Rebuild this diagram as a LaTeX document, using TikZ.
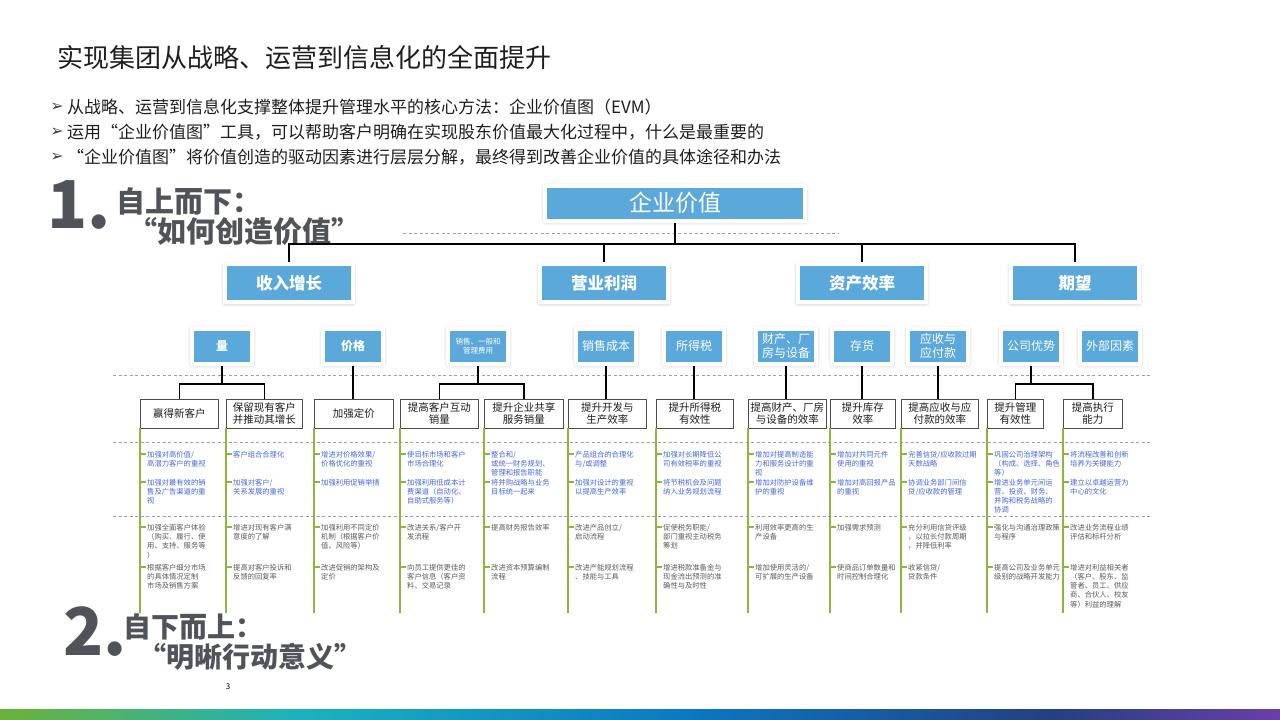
\documentclass[tikz,border=0pt]{standalone}
\usepackage{fontspec}
\setmainfont{Noto Sans CJK SC}
\newfontfamily\symfont{DejaVu Sans}
\usetikzlibrary{positioning,shadows.blur}
\definecolor{evmBlue}{HTML}{5BA8DB}
\definecolor{evmInk}{HTML}{1E1E1E}
\definecolor{evmHead}{HTML}{50545A}
\definecolor{evmGreen}{HTML}{8DB63C}
\definecolor{evmIdea}{HTML}{4466DD}
\definecolor{evmFact}{HTML}{5A5A5A}
\definecolor{evmDash}{HTML}{A0A0A0}
\definecolor{barGreen}{HTML}{6BB23A}
\definecolor{barTeal}{HTML}{1BB2BE}
\definecolor{barBlue}{HTML}{0A78C2}
\definecolor{barNavy}{HTML}{24407F}
\definecolor{barPurple}{HTML}{6A3EA8}
\tikzset{
  valuebox/.style={fill=evmBlue, draw=white, line width=4pt, text=white,
        minimum width=260pt, minimum height=35pt, inner sep=1pt, align=center,
        font=\fontsize{23}{25}\selectfont,
        blur shadow={shadow xshift=0pt, shadow yshift=-1pt,
                     shadow blur radius=4pt, shadow opacity=35}},
  driverbox/.style={valuebox, minimum width=128pt, minimum height=38pt,
        font=\fontsize{16.5}{18}\selectfont\bfseries},
  leverbox/.style={valuebox, minimum width=60pt, minimum height=35pt,
        font=\fontsize{12}{14}\selectfont},
  actbox/.style={draw=black!70, fill=white, line width=0.8pt, minimum height=29pt,
        align=center, inner sep=1pt, anchor=west, text=evmInk,
        font=\fontsize{10.5}{12.5}\selectfont},
  treeline/.style={draw=black, line width=1.2pt},
  guide/.style={draw=evmDash, line width=0.8pt, dash pattern=on 3pt off 2.5pt},
  greenstem/.style={draw=evmGreen, line width=1.1pt},
  idea/.style={anchor=north west, inner sep=0pt, align=left, text=evmIdea,
        font=\fontsize{7.3}{9.2}\selectfont},
  fact/.style={idea, text=evmFact},
  headnum/.style={anchor=base west, inner sep=0pt, text=evmHead,
        font=\fontsize{66}{66}\selectfont\bfseries},
  headtxt/.style={anchor=base west, inner sep=0pt, text=evmHead,
        font=\fontsize{29}{31}\selectfont\bfseries},
  bulletmark/.style={text=evmInk!85, inner sep=0pt, font=\symfont\fontsize{16}{16}\selectfont},
  bullettxt/.style={anchor=west, text=evmInk, inner sep=0pt,
        font=\fontsize{17}{19}\selectfont}
}

\begin{document}
\begin{tikzpicture}[x=1pt, y=-1pt]
\useasboundingbox (0,0) rectangle (1280,720);

\node[anchor=west, inner sep=0pt, text=evmInk, font=\fontsize{26}{28}\selectfont] (title) at (57,58) {实现集团从战略、运营到信息化的全面提升};

\node[bulletmark] (mark1) at (57,107) {➢};
\node[bullettxt, right=3pt of mark1] (point1) {从战略、运营到信息化支撑整体提升管理水平的核心方法：企业价值图（EVM）};
\node[bulletmark] (mark2) at (57,132) {➢};
\node[bullettxt, right=3pt of mark2] (point2) {运用“企业价值图”工具，可以帮助客户明确在实现股东价值最大化过程中，什么是最重要的};
\node[bulletmark] (mark3) at (57,157) {➢};
\node[bullettxt, right=3pt of mark3] (point3) {“企业价值图”将价值创造的驱动因素进行层层分解，最终得到改善企业价值的具体途径和办法};

\node[headnum] (numone) at (47,228) {1.};
\node[headtxt] (topdown) at (116,212) {自上而下：};
\node[headtxt] (topdownq) at (128,242) {“如何创造价值”};
\node[headnum] (numtwo) at (63,655) {2.};
\node[headtxt, font=\fontsize{28}{30}\selectfont\bfseries] (bottomup) at (123,637) {自下而上：};
\node[headtxt, font=\fontsize{28}{30}\selectfont\bfseries] (bottomupq) at (138,667) {“明晰行动意义”};
\node[inner sep=0pt, font=\fontsize{8}{8}\selectfont] (pagenum) at (228,687) {3};

\draw[guide] (403,233) -- (838,233);
\draw[guide] (113,375) -- (1150,375);
\draw[guide] (113,442) -- (1150,442);
\draw[guide] (113,516) -- (1150,516);

\node[valuebox] (value) at (675,203) {企业价值};

\node[driverbox] (revenue) at (289,283) {收入增长};
\node[driverbox] (profit) at (604,283) {营业利润};
\node[driverbox] (assets) at (862,283) {资产效率};
\node[driverbox] (expect) at (1075,283) {期望};

\node[leverbox, font=\fontsize{12}{14}\selectfont\bfseries] (volume) at (222,346) {量};
\node[leverbox, font=\fontsize{12}{14}\selectfont\bfseries] (price) at (353,346) {价格};
\node[leverbox, font=\fontsize{7.5}{9}\selectfont] (sga) at (478,346) {销售、一般和\\管理费用};
\node[leverbox] (cogs) at (606,346) {销售成本};
\node[leverbox] (tax) at (694,346) {所得税};
\node[leverbox] (ppe) at (786,346) {财产、厂\\房与设备};
\node[leverbox] (stock) at (862,346) {存货};
\node[leverbox] (recv) at (938,346) {应收与\\应付款};
\node[leverbox] (edge) at (1031,346) {公司优势};
\node[leverbox] (extern) at (1110,346) {外部因素};

\node[actbox, minimum width=78pt] (newcust) at (140,413.5) {赢得新客户};
\node[actbox, minimum width=76pt] (keepcust) at (226,413.5) {保留现有客户\\并推动其增长};
\node[actbox, minimum width=79pt] (pricing) at (314,413.5) {加强定价};
\node[actbox, minimum width=78pt] (interact) at (400,413.5) {提高客户互动\\销量};
\node[actbox, minimum width=79pt] (shared) at (484,413.5) {提升企业共享\\服务销量};
\node[actbox, minimum width=78pt] (devprod) at (568,413.5) {提升开发与\\生产效率};
\node[actbox, minimum width=77pt] (taxeff) at (656,413.5) {提升所得税\\有效性};
\node[actbox, minimum width=78pt] (ppeeff) at (748,413.5) {提高财产、厂房\\与设备的效率};
\node[actbox, minimum width=65pt] (stockeff) at (830,413.5) {提升库存\\效率};
\node[actbox, minimum width=77pt] (recveff) at (901,413.5) {提高应收与应\\付款的效率};
\node[actbox, minimum width=56pt] (mgmt) at (987,413.5) {提升管理\\有效性};
\node[actbox, minimum width=59pt] (exec) at (1063,413.5) {提高执行\\能力};

\draw[treeline] (value.south) -- ++(0,21.5) coordinate (hub);
\draw[treeline] (revenue.north) |- (hub) -| (expect.north);
\draw[treeline] (profit.north) -- (profit.north |- hub);
\draw[treeline] (assets.north) -- (assets.north |- hub);

\draw[treeline] (volume.south) -- ++(0,18.5) coordinate (volfork);
\draw[treeline] (newcust.north) |- (volfork) -| (keepcust.north);
\draw[treeline] (price.south) -- (price.south |- pricing.north);
\draw[treeline] (sga.south) -- ++(0,18.5) coordinate (sgafork);
\draw[treeline] (interact.north) |- (sgafork) -| (shared.north);
\draw[treeline] (cogs.south) -- (cogs.south |- devprod.north);
\draw[treeline] (tax.south) -- (tax.south |- taxeff.north);
\draw[treeline] (ppe.south) -- (ppe.south |- ppeeff.north);
\draw[treeline] (stock.south) -- (stock.south |- stockeff.north);
\draw[treeline] (recv.south) -- (recv.south |- recveff.north);
\draw[treeline] (edge.south) -- ++(0,18.5) coordinate (edgefork);
\draw[treeline] (mgmt.north) |- (edgefork) -| (exec.north);

\coordinate (rowA) at (0,454);
\coordinate (rowB) at (0,482);
\coordinate (rowC) at (0,527);
\coordinate (rowD) at (0,567);
\coordinate (floor) at (0,613);

\draw[greenstem] (newcust.south west) -- (newcust.south west |- floor)
  (newcust.south west |- rowA) -- ++(6,0) (newcust.south west |- rowB) -- ++(6,0)
  (newcust.south west |- rowC) -- ++(6,0) (newcust.south west |- rowD) -- ++(6,0);
\draw[greenstem] (keepcust.south west) -- (keepcust.south west |- floor)
  (keepcust.south west |- rowA) -- ++(6,0) (keepcust.south west |- rowB) -- ++(6,0)
  (keepcust.south west |- rowC) -- ++(6,0) (keepcust.south west |- rowD) -- ++(6,0);
\draw[greenstem] (pricing.south west) -- (pricing.south west |- floor)
  (pricing.south west |- rowA) -- ++(6,0) (pricing.south west |- rowB) -- ++(6,0)
  (pricing.south west |- rowC) -- ++(6,0) (pricing.south west |- rowD) -- ++(6,0);
\draw[greenstem] (interact.south west) -- (interact.south west |- floor)
  (interact.south west |- rowA) -- ++(6,0) (interact.south west |- rowB) -- ++(6,0)
  (interact.south west |- rowC) -- ++(6,0) (interact.south west |- rowD) -- ++(6,0);
\draw[greenstem] (shared.south west) -- (shared.south west |- floor)
  (shared.south west |- rowA) -- ++(6,0) (shared.south west |- rowB) -- ++(6,0)
  (shared.south west |- rowC) -- ++(6,0) (shared.south west |- rowD) -- ++(6,0);
\draw[greenstem] (devprod.south west) -- (devprod.south west |- floor)
  (devprod.south west |- rowA) -- ++(6,0) (devprod.south west |- rowB) -- ++(6,0)
  (devprod.south west |- rowC) -- ++(6,0) (devprod.south west |- rowD) -- ++(6,0);
\draw[greenstem] (taxeff.south west) -- (taxeff.south west |- floor)
  (taxeff.south west |- rowA) -- ++(6,0) (taxeff.south west |- rowB) -- ++(6,0)
  (taxeff.south west |- rowC) -- ++(6,0) (taxeff.south west |- rowD) -- ++(6,0);
\draw[greenstem] (ppeeff.south west) -- (ppeeff.south west |- floor)
  (ppeeff.south west |- rowA) -- ++(6,0) (ppeeff.south west |- rowB) -- ++(6,0)
  (ppeeff.south west |- rowC) -- ++(6,0) (ppeeff.south west |- rowD) -- ++(6,0);
\draw[greenstem] (stockeff.south west) -- (stockeff.south west |- floor)
  (stockeff.south west |- rowA) -- ++(6,0) (stockeff.south west |- rowB) -- ++(6,0)
  (stockeff.south west |- rowC) -- ++(6,0) (stockeff.south west |- rowD) -- ++(6,0);
\draw[greenstem] (recveff.south west) -- (recveff.south west |- floor)
  (recveff.south west |- rowA) -- ++(6,0) (recveff.south west |- rowB) -- ++(6,0)
  (recveff.south west |- rowC) -- ++(6,0) (recveff.south west |- rowD) -- ++(6,0);
\draw[greenstem] (mgmt.south west) -- (mgmt.south west |- floor)
  (mgmt.south west |- rowA) -- ++(6,0) (mgmt.south west |- rowB) -- ++(6,0)
  (mgmt.south west |- rowC) -- ++(6,0) (mgmt.south west |- rowD) -- ++(6,0);
\draw[greenstem] (exec.south west) -- (exec.south west |- floor)
  (exec.south west |- rowA) -- ++(6,0) (exec.south west |- rowB) -- ++(6,0)
  (exec.south west |- rowC) -- ++(6,0) (exec.south west |- rowD) -- ++(6,0);

\node[idea] (newcustA) at (147,451) {加强对高价值/\\高潜力客户的重视};
\node[idea] (newcustB) at (147,479) {加强对最有效的销\\售及广告渠道的重\\视};
\node[fact] (newcustC) at (147,524) {加强全面客户体验\\（购买、履行、使\\用、支持、服务等\\）};
\node[fact] (newcustD) at (147,564) {根据客户细分市场\\的具体情况定制\\市场及销售方案};

\node[idea] (keepcustA) at (233,451) {客户组合合理化};
\node[idea] (keepcustB) at (233,479) {加强对客户/\\关系发展的重视};
\node[fact] (keepcustC) at (233,524) {增进对现有客户满\\意度的了解};
\node[fact] (keepcustD) at (233,564) {提高对客户投诉和\\反馈的回复率};

\node[idea] (pricingA) at (321,451) {增进对价格效果/\\价格优化的重视};
\node[idea] (pricingB) at (321,479) {加强利用促销举措};
\node[fact] (pricingC) at (321,524) {加强利用不同定价\\机制（根据客户价\\值、风险等）};
\node[fact] (pricingD) at (321,564) {改进促销的架构及\\定价};

\node[idea] (interactA) at (407,451) {使目标市场和客户\\市场合理化};
\node[idea] (interactB) at (407,479) {加强利用低成本计\\费渠道（自动化、\\自助式服务等）};
\node[fact] (interactC) at (407,524) {改进关系/客户开\\发流程};
\node[fact] (interactD) at (407,564) {向员工提供更佳的\\客户信息（客户资\\料、交易记录};

\node[idea] (sharedA) at (491,451) {整合和/\\或统一财务规划、\\管理和报告职能};
\node[idea] (sharedB) at (491,479) {将并购战略与业务\\目标统一起来};
\node[fact] (sharedC) at (491,524) {提高财务报告效率};
\node[fact] (sharedD) at (491,564) {改进资本预算编制\\流程};

\node[idea] (devprodA) at (575,451) {产品组合的合理化\\与/或调整};
\node[idea] (devprodB) at (575,479) {加强对设计的重视\\以提高生产效率};
\node[fact] (devprodC) at (575,524) {改进产品创立/\\启动流程};
\node[fact] (devprodD) at (575,564) {改进产能规划流程\\、技能与工具};

\node[idea] (taxeffA) at (663,451) {加强对长期降低公\\司有效税率的重视};
\node[idea] (taxeffB) at (663,479) {将节税机会及问题\\纳入业务规划流程};
\node[fact] (taxeffC) at (663,524) {促使税务职能/\\部门重视主动税务\\筹划};
\node[fact] (taxeffD) at (663,564) {增进税款准备金与\\现金流出预测的准\\确性与及时性};

\node[idea] (ppeeffA) at (755,451) {增加对提高制造能\\力和服务设计的重\\视};
\node[idea] (ppeeffB) at (755,479) {增加对防护设备维\\护的重视};
\node[fact] (ppeeffC) at (755,524) {利用效率更高的生\\产设备};
\node[fact] (ppeeffD) at (755,564) {增加使用灵活的/\\可扩展的生产设备};

\node[idea] (stockeffA) at (837,451) {增加对共同元件\\使用的重视};
\node[idea] (stockeffB) at (837,479) {增加对高回报产品\\的重视};
\node[fact] (stockeffC) at (837,524) {加强需求预测};
\node[fact] (stockeffD) at (837,564) {使商品订单数量和\\时间控制合理化};

\node[idea] (recveffA) at (908,451) {完善信贷/应收款过期\\天数战略};
\node[idea] (recveffB) at (908,479) {协调业务部门间信\\贷/应收款的管理};
\node[fact] (recveffC) at (908,524) {充分利用信贷评级\\，以拉长付款周期\\，并降低利率};
\node[fact] (recveffD) at (908,564) {收紧信贷/\\贷款条件};

\node[idea] (mgmtA) at (994,451) {巩固公司治理架构\\（构成、选择、角色\\等）};
\node[idea] (mgmtB) at (994,479) {增进业务单元间运\\营、投资、财务、\\并购和税务战略的\\协调};
\node[fact] (mgmtC) at (994,524) {强化与沟通治理政策\\与程序};
\node[fact] (mgmtD) at (994,564) {提高公司及业务单元\\级别的战略开发能力};

\node[idea] (execA) at (1070,451) {将流程改善和创新\\培养为关键能力};
\node[idea] (execB) at (1070,479) {建立以卓越运营为\\中心的文化};
\node[fact] (execC) at (1070,524) {改进业务流程业绩\\评估和标杆分析};
\node[fact] (execD) at (1070,564) {增进对利益相关者\\（客户、股东、监\\管者、员工、供应\\商、合伙人、校友\\等）利益的理解};

\shade[left color=barGreen, right color=barTeal] (0,709) rectangle (300.5,720);
\shade[left color=barTeal, right color=barBlue] (300,709) rectangle (690.5,720);
\shade[left color=barBlue, right color=barNavy] (690,709) rectangle (1050.5,720);
\shade[left color=barNavy, right color=barPurple] (1050,709) rectangle (1280,720);
\end{tikzpicture}
\end{document}
